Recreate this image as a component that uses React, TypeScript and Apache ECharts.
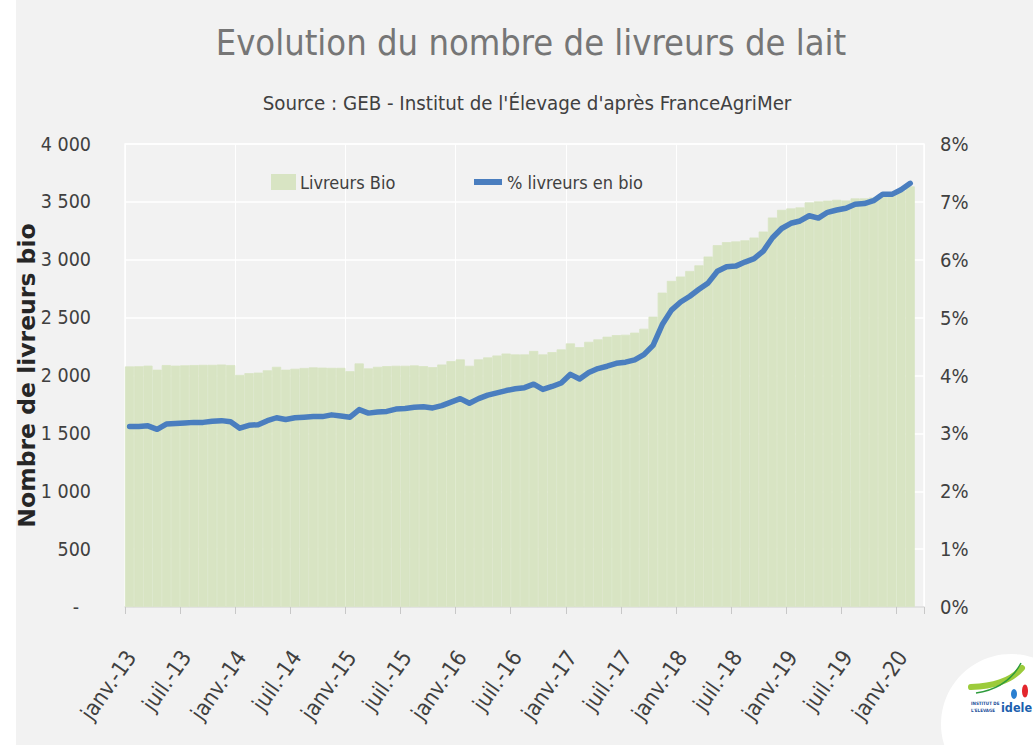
import React, { useEffect, useRef } from 'react';
import * as echarts from 'echarts';

const MONTHS = ['janv.', 'févr.', 'mars', 'avr.', 'mai', 'juin', 'juil.', 'août', 'sept.', 'oct.', 'nov.', 'déc.'];
const YEARS = ['13', '14', '15', '16', '17', '18', '19', '20'];
const ALL_MONTHS: string[] = [];
YEARS.forEach((y) => MONTHS.forEach((m) => ALL_MONTHS.push(m + '-' + y)));
const categories = ALL_MONTHS.slice(0, 87);

// Livreurs Bio (nombre), janv.-13 .. févr.-20
const livreursBio = [
  2078, 2080, 2085, 2050, 2090, 2085, 2088, 2090, 2092, 2092, 2095, 2090,
  2005, 2020, 2025, 2045, 2075, 2050, 2058, 2065, 2070, 2068, 2066, 2066,
  2037, 2104, 2061, 2075, 2081, 2084, 2084, 2087, 2081, 2072, 2095, 2124,
  2139, 2084, 2139, 2156, 2173, 2190, 2182, 2182, 2212, 2182, 2202, 2225,
  2277, 2245, 2291, 2312, 2335, 2349, 2352, 2370, 2404, 2508, 2716, 2817,
  2855, 2903, 2952, 3028, 3126, 3152, 3158, 3168, 3192, 3244, 3365, 3431,
  3443, 3452, 3495, 3504, 3510, 3518, 3512, 3530, 3530, 3538, 3567, 3576,
  3596, 3634,
];

// % livreurs en bio
const pctBio = [
  3.12, 3.12, 3.13, 3.07, 3.16, 3.17, 3.18, 3.19, 3.19, 3.21, 3.22, 3.20,
  3.09, 3.14, 3.15, 3.22, 3.27, 3.24, 3.27, 3.28, 3.29, 3.29, 3.32, 3.30,
  3.28, 3.41, 3.35, 3.37, 3.38, 3.42, 3.43, 3.45, 3.46, 3.44, 3.48, 3.54,
  3.60, 3.52, 3.60, 3.66, 3.70, 3.74, 3.77, 3.79, 3.85, 3.76, 3.81, 3.87,
  4.02, 3.94, 4.05, 4.12, 4.16, 4.21, 4.23, 4.27, 4.36, 4.52, 4.88, 5.13,
  5.27, 5.37, 5.49, 5.60, 5.80, 5.88, 5.89, 5.96, 6.02, 6.15, 6.38, 6.54,
  6.63, 6.67, 6.76, 6.72, 6.82, 6.86, 6.89, 6.96, 6.97, 7.02, 7.13, 7.13,
  7.21, 7.32,
];

const TITLE = 'Evolution du nombre de livreurs de lait';
const SUBTITLE = "Source : GEB - Institut de l'Élevage d'après FranceAgriMer";
const Y_NAME = 'Nombre de livreurs bio';
const SERIES_BAR = 'Livreurs Bio';
const SERIES_LINE = '% livreurs en bio';

const FONT = "'DejaVu Sans Condensed', 'Liberation Sans Narrow', 'DejaVu Sans', sans-serif";
const BAR_COLOR = '#d8e4c3';
const LINE_COLOR = '#4a7ebf';
const TEXT = '#404040';

const GRID = { left: 125, right: 109, top: 144, bottom: 140 };
const LABEL_SHIFT = 6;

function fmtThousands(v: number): string {
  if (v === 0) return '{d|-}';
  const s = String(v);
  return s.length > 3 ? s.slice(0, s.length - 3) + ' ' + s.slice(-3) : s;
}

export default function App() {
  const ref = useRef<HTMLDivElement>(null);

  useEffect(() => {
    if (!ref.current) return;
    const chart = echarts.init(ref.current, undefined, { renderer: 'svg' });
    const option: any = {
      animation: false,
      backgroundColor: 'transparent',
      textStyle: { fontFamily: FONT },
      grid: [
        {
          ...GRID,
          outerBoundsMode: 'none',
          containLabel: false,
          show: true,
          borderColor: '#ffffff',
          borderWidth: 1.5,
          backgroundColor: 'transparent',
        },
        {
          left: GRID.left + LABEL_SHIFT,
          right: GRID.right - LABEL_SHIFT,
          top: GRID.top,
          bottom: GRID.bottom,
          outerBoundsMode: 'none',
          containLabel: false,
        },
      ],
      legend: [
        {
          data: [{ name: SERIES_BAR, icon: 'rect' }],
          left: 266,
          top: 168,
          itemWidth: 23,
          itemHeight: 14,
          textStyle: { fontFamily: FONT, fontSize: 18, color: TEXT },
        },
        {
          data: [{ name: SERIES_LINE, icon: 'rect' }],
          left: 469,
          top: 168,
          itemWidth: 28,
          itemHeight: 6,
          textStyle: { fontFamily: FONT, fontSize: 18, color: TEXT },
        },
      ],
      xAxis: [
        {
          type: 'category',
          gridIndex: 0,
          data: categories,
          boundaryGap: true,
          axisLine: { show: true, lineStyle: { color: '#d9d9d9', width: 1.5 } },
          axisTick: { show: true, interval: (i: number) => i % 6 === 0, length: 7, lineStyle: { color: '#c8c8c8' } },
          axisLabel: { show: false },
          splitLine: { show: true, interval: (i: number) => i % 12 === 0, lineStyle: { color: '#ffffff', width: 1 } },
        },
        {
          type: 'value',
          gridIndex: 1,
          min: 0,
          max: 87,
          interval: 6,
          axisLine: { show: false },
          axisTick: { show: false },
          splitLine: { show: false },
          axisLabel: {
            rotate: 55,
            margin: 46,
            fontFamily: FONT,
            fontSize: 22,
            color: TEXT,
            formatter: (v: number) => (v % 6 === 0 && v <= 84 ? categories[v] : ''),
          },
        },
      ],
      yAxis: [
        {
          type: 'value',
          gridIndex: 0,
          min: 0,
          max: 4000,
          interval: 500,
          position: 'left',
          name: Y_NAME,
          nameLocation: 'middle',
          nameGap: 86,
          nameRotate: 90,
          nameMoveOverlap: false,
          nameTextStyle: { fontFamily: "'DejaVu Sans', sans-serif", fontWeight: 'bold', fontSize: 23.5, color: '#262626' },
          axisLine: { show: false },
          axisTick: { show: false },
          axisLabel: {
            margin: 34,
            fontFamily: FONT,
            fontSize: 19.5,
            color: TEXT,
            formatter: fmtThousands,
            rich: { d: { fontFamily: FONT, fontSize: 19.5, color: TEXT, padding: [0, 12, 0, 0] } },
          },
          splitLine: { show: true, lineStyle: { color: '#ffffff', width: 1.5 } },
        },
        {
          type: 'value',
          gridIndex: 0,
          min: 0,
          max: 8,
          interval: 1,
          position: 'right',
          axisLine: { show: false },
          axisTick: { show: false },
          axisLabel: { margin: 16, fontFamily: FONT, fontSize: 20, color: TEXT, formatter: '{value}%' },
          splitLine: { show: false },
        },
        { type: 'value', gridIndex: 1, min: 0, max: 1, show: false },
      ],
      series: [
        {
          name: SERIES_BAR,
          type: 'bar',
          xAxisIndex: 0,
          yAxisIndex: 0,
          data: livreursBio,
          barCategoryGap: '0%',
          itemStyle: { color: BAR_COLOR, borderColor: BAR_COLOR, borderWidth: 0.8 },
          z: 2,
        },
        {
          name: SERIES_LINE,
          type: 'line',
          xAxisIndex: 0,
          yAxisIndex: 1,
          data: pctBio,
          symbol: 'none',
          showSymbol: false,
          lineStyle: { color: LINE_COLOR, width: 5.5, join: 'round', cap: 'round' },
          itemStyle: { color: LINE_COLOR },
          z: 3,
        },
      ],
      graphic: [
        {
          type: 'text',
          x: 531,
          y: 42,
          style: { text: TITLE, fontFamily: FONT, fontSize: 36, fill: '#767676', textAlign: 'center', textVerticalAlign: 'middle' },
        },
        {
          type: 'text',
          x: 527,
          y: 103,
          style: { text: SUBTITLE, fontFamily: FONT, fontSize: 20.3, fill: TEXT, textAlign: 'center', textVerticalAlign: 'middle' },
        },
        {
          type: 'group',
          children: [
            { type: 'circle', shape: { cx: 1011, cy: 724, r: 70 }, style: { fill: '#ffffff' } },
            {
              type: 'bezierCurve',
              shape: { x1: 971, y1: 687, cpx1: 992, cpy1: 686, cpx2: 1010, cpy2: 682, x2: 1022, y2: 668 },
              style: { stroke: '#9ccb3b', lineWidth: 6, fill: 'none', lineCap: 'round' },
            },
            {
              type: 'bezierCurve',
              shape: { x1: 976, y1: 693, cpx1: 996, cpy1: 690, cpx2: 1012, cpy2: 680, x2: 1021, y2: 663 },
              style: { stroke: '#2e9b3c', lineWidth: 1.5, fill: 'none' },
            },
            { type: 'ellipse', shape: { cx: 1014, cy: 694, rx: 3, ry: 5 }, style: { fill: '#2a7fd0' } },
            { type: 'ellipse', shape: { cx: 1025, cy: 691, rx: 3, ry: 6.5 }, style: { fill: '#e3262d' } },
            {
              type: 'text',
              x: 971,
              y: 703,
              style: { text: 'INSTITUT DE', fontFamily: FONT, fontWeight: 'bold', fontSize: 4.5, fill: '#1d4f9a', textVerticalAlign: 'middle' },
            },
            {
              type: 'text',
              x: 971,
              y: 710,
              style: { text: "L'ELEVAGE", fontFamily: FONT, fontWeight: 'bold', fontSize: 4.5, fill: '#1d4f9a', textVerticalAlign: 'middle' },
            },
            {
              type: 'text',
              x: 1001,
              y: 707,
              style: { text: 'idele', fontFamily: FONT, fontWeight: 'bold', fontSize: 12.5, fill: '#1c5fae', textVerticalAlign: 'middle' },
            },
          ],
        },
      ],
    };
    chart.setOption(option);
    return () => chart.dispose();
  }, []);

  return (
    <div style={{ position: 'fixed', left: 0, top: 0, width: 1033, height: 747, background: '#ffffff', overflow: 'hidden' }}>
      <div style={{ position: 'absolute', left: 16, top: 0, width: 1017, height: 745, background: '#f2f2f2' }} />
      <div ref={ref} style={{ position: 'absolute', left: 0, top: 0, width: 1033, height: 747 }} />
    </div>
  );
}
